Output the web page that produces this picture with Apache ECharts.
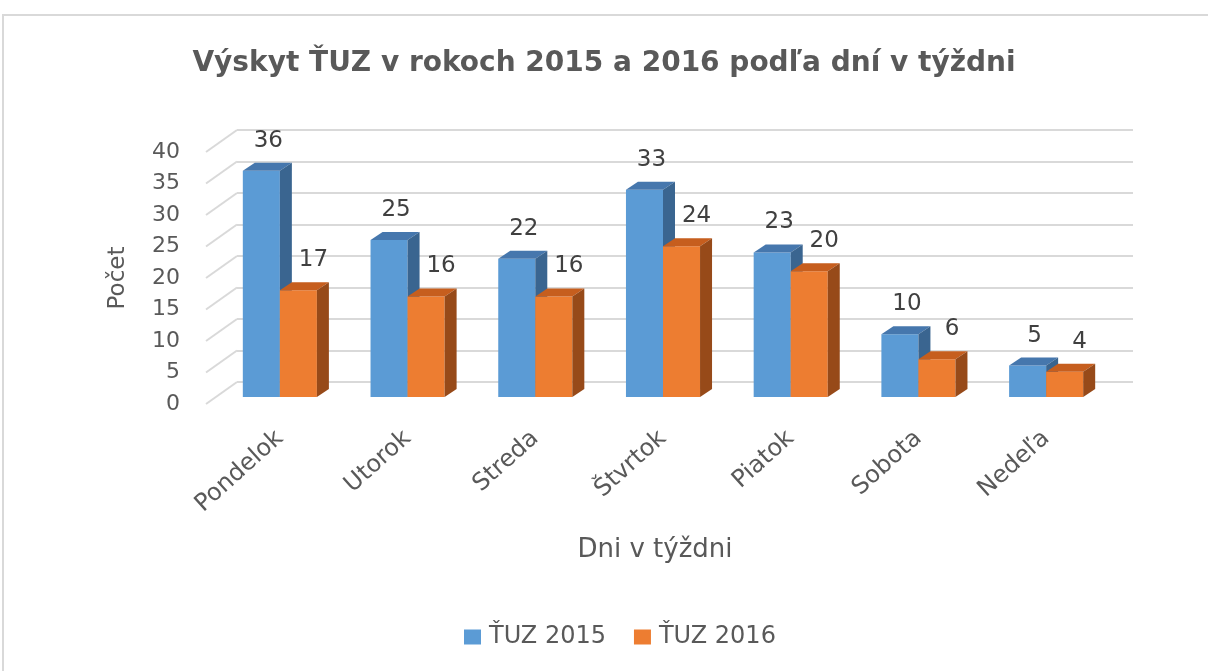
<!DOCTYPE html>
<html>
<head>
<meta charset="utf-8">
<script src="https://cdn.jsdelivr.net/npm/echarts@6/dist/echarts.min.js"></script>
<style>
  html, body { margin: 0; padding: 0; background: #fff; }
  #chart { width: 1208px; height: 671px; }
</style>
</head>
<body>
<div id="chart"></div>
<script>
// Výskyt ŤUZ podľa dní v týždni

var days = ['Pondelok', 'Utorok', 'Streda', 'Štvrtok', 'Piatok', 'Sobota', 'Nedeľa'];
var tuz2015 = [36, 25, 22, 33, 23, 10, 5];
var tuz2016 = [17, 16, 16, 24, 20, 6, 4];
var yTicks = [0, 5, 10, 15, 20, 25, 30, 35, 40];

var font = '"DejaVu Sans", "Noto Sans", sans-serif';
var textColor = '#595959';

// 3D-ish column: front face, top face and side face
function column3D(side, front, topColor, sideColor, labelShift) {
    return function (params, api) {
        var cat = api.value(0);
        var v = api.value(1);
        var base = api.coord([cat, 0]);
        var top = api.coord([cat, v]);
        var bw = api.size([1, 0])[0] * 0.29;
        var dx = 12, dy = -8;
        var x0 = side === 0 ? base[0] - bw : base[0];
        var x1 = x0 + bw;
        return {
            type: 'group',
            children: [
                {
                    type: 'rect',
                    shape: { x: x0, y: top[1], width: bw, height: base[1] - top[1] },
                    style: { fill: front }
                },
                {
                    type: 'polygon',
                    shape: { points: [[x0, top[1]], [x1, top[1]], [x1 + dx, top[1] + dy], [x0 + dx, top[1] + dy]] },
                    style: { fill: topColor }
                },
                {
                    type: 'polygon',
                    shape: { points: [[x1, top[1]], [x1 + dx, top[1] + dy], [x1 + dx, base[1] + dy], [x1, base[1]]] },
                    style: { fill: sideColor }
                },
                {
                    type: 'text',
                    style: {
                        text: String(v),
                        x: x0 + bw / 2 + labelShift,
                        y: top[1] - 30,
                        align: 'center',
                        verticalAlign: 'middle',
                        fill: '#404040',
                        font: '23px ' + font
                    }
                }
            ]
        };
    };
}

// slanted lines of the left side wall
function sideWall(params, api) {
    var p = api.coord([0, api.value(0)]);
    return {
        type: 'line',
        shape: { x1: p[0], y1: p[1], x2: p[0] - 31, y2: p[1] + 22 },
        style: { stroke: '#D9D9D9', lineWidth: 2 }
    };
}

var chart = echarts.init(document.getElementById('chart'));

var option = {
    animation: false,
    backgroundColor: '#fff',
    title: {
        text: 'Výskyt ŤUZ v rokoch 2015 a 2016 podľa dní v týždni',
        left: 'center',
        top: 45,
        textStyle: { fontFamily: font, fontSize: 28, fontWeight: 'bold', color: textColor }
    },
    graphic: [
        {
            type: 'rect',
            shape: { x: 3, y: 15, width: 1230, height: 700 },
            style: { fill: 'none', stroke: '#D9D9D9', lineWidth: 2 },
            z: -10
        }
    ],
    legend: {
        bottom: 17,
        left: 459,
        icon: 'rect',
        itemWidth: 17,
        itemHeight: 15,
        itemGap: 28,
        textStyle: { fontFamily: font, fontSize: 24, color: textColor, padding: [0, 0, 0, 3] },
        data: ['ŤUZ 2015', 'ŤUZ 2016']
    },
    grid: [
        // bar plane
        { left: 216, right: 98, top: 145.7, bottom: 274 },
        // back wall
        { left: 237, right: 75, top: 130, bottom: 289 },
        // front edge, for the value labels
        { left: 206, right: 106, top: 152, bottom: 267 }
    ],
    xAxis: [
        {
            gridIndex: 0,
            type: 'category',
            data: days,
            axisLine: { show: false },
            axisTick: { show: false },
            axisLabel: {
                rotate: 42,
                margin: 38,
                fontFamily: font,
                fontSize: 24,
                color: textColor
            },
            name: 'Dni v týždni',
            nameLocation: 'middle',
            nameGap: 140,
            nameTextStyle: { fontFamily: font, fontSize: 26, color: textColor, padding: [0, 16, 0, 0] }
        },
        { gridIndex: 1, type: 'value', min: 0, max: 1, show: false },
        { gridIndex: 2, type: 'value', min: 0, max: 1, show: false }
    ],
    yAxis: [
        { gridIndex: 0, type: 'value', min: 0, max: 40, interval: 5, show: false },
        {
            gridIndex: 1,
            type: 'value',
            min: 0,
            max: 40,
            interval: 5,
            axisLine: { show: false },
            axisTick: { show: false },
            axisLabel: { show: false },
            splitLine: { lineStyle: { color: '#D9D9D9', width: 2 } }
        },
        {
            gridIndex: 2,
            type: 'value',
            min: 0,
            max: 40,
            interval: 5,
            axisLine: { show: false },
            axisTick: { show: false },
            splitLine: { show: false },
            axisLabel: { margin: 26, fontFamily: font, fontSize: 22, color: textColor },
            name: 'Počet',
            nameLocation: 'middle',
            nameRotate: 90,
            nameGap: 76,
            nameTextStyle: { fontFamily: font, fontSize: 23, color: textColor }
        }
    ],
    series: [
        {
            type: 'custom',
            xAxisIndex: 1,
            yAxisIndex: 1,
            renderItem: sideWall,
            data: yTicks.map(function (t) { return [t]; }),
            encode: { y: 0 },
            silent: true,
            z: 1
        },
        {
            name: 'ŤUZ 2015',
            type: 'custom',
            xAxisIndex: 0,
            yAxisIndex: 0,
            itemStyle: { color: '#5B9BD5' },
            renderItem: column3D(0, '#5B9BD5', '#4677AD', '#3A6590', 7),
            data: tuz2015.map(function (v, i) { return [i, v]; }),
            encode: { x: 0, y: 1 },
            z: 3
        },
        {
            name: 'ŤUZ 2016',
            type: 'custom',
            xAxisIndex: 0,
            yAxisIndex: 0,
            itemStyle: { color: '#ED7D31' },
            renderItem: column3D(1, '#ED7D31', '#C65E1E', '#974A19', 15),
            data: tuz2016.map(function (v, i) { return [i, v]; }),
            encode: { x: 0, y: 1 },
            z: 4
        }
    ]
};

chart.setOption(option);
</script>
</body>
</html>
